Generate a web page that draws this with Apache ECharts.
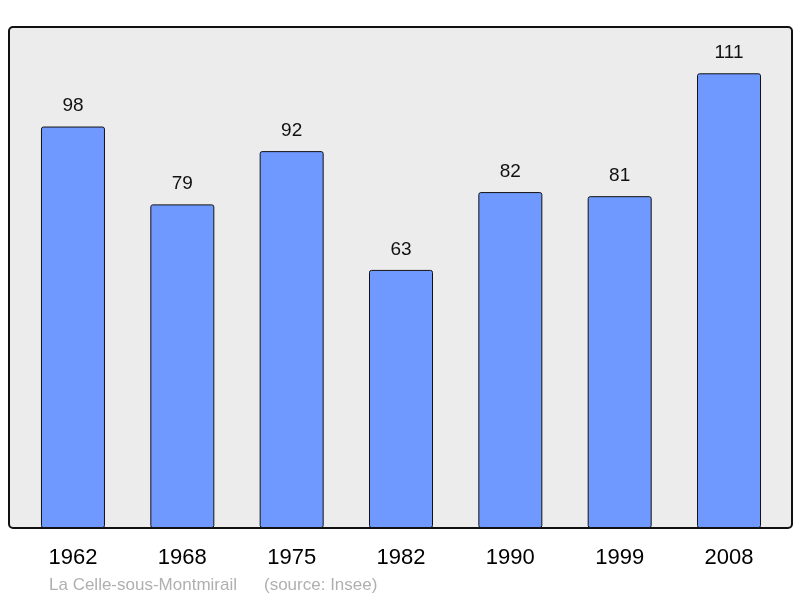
<!DOCTYPE html>
<html>
<head>
<meta charset="utf-8">
<script src="https://cdn.jsdelivr.net/npm/echarts@6/dist/echarts.min.js"></script>
<style>
  html, body { margin: 0; padding: 0; background: #fff; }
  #main { width: 800px; height: 598px; }
</style>
</head>
<body>
<div id="main"></div>
<script>
const years = ["1962", "1968", "1975", "1982", "1990", "1999", "2008"];
const population = [98, 79, 92, 63, 82, 81, 111];
const footerName = "La Celle-sous-Montmirail";
const footerSource = "(source: Insee)";

const chart = echarts.init(document.getElementById("main"));
const font = "Liberation Sans, Arial, sans-serif";

const option = {
    animation: false,
    textStyle: { fontFamily: font },
    grid: {
        left: 18.3,
        right: 16.3,
        top: 27,
        bottom: 70,
        containLabel: false,
    },
    xAxis: {
        type: "category",
        data: years,
        axisLine: { show: false },
        axisTick: { show: false },
        axisLabel: { color: "#000", fontSize: 22, margin: 19 },
    },
    yAxis: {
        type: "value",
        min: 0,
        max: 122.3,
        show: false,
        splitLine: { show: false },
    },
    series: [{
        type: "bar",
        data: population,
        barWidth: 64,
        z: 5,
        itemStyle: {
            color: "#7099ff",
            borderColor: "#111",
            borderWidth: 1,
            borderRadius: 2,
        },
        label: {
            show: true,
            position: "top",
            distance: 11,
            color: "#111",
            fontSize: 19,
        },
    }],
    graphic: [
        {
            // plot frame
            type: "rect",
            z: -10,
            shape: { x: 9, y: 27, width: 783, height: 501, r: 4 },
            style: { fill: "#ececec", stroke: "#111", lineWidth: 2 },
        },
        {
            type: "text",
            left: 49,
            top: 577,
            style: { text: footerName, fill: "#b0b0b0", fontSize: 17, fontFamily: font },
        },
        {
            type: "text",
            left: 264,
            top: 577,
            style: { text: footerSource, fill: "#b0b0b0", fontSize: 17, fontFamily: font },
        },
    ],
};

chart.setOption(option);
</script>
</body>
</html>
